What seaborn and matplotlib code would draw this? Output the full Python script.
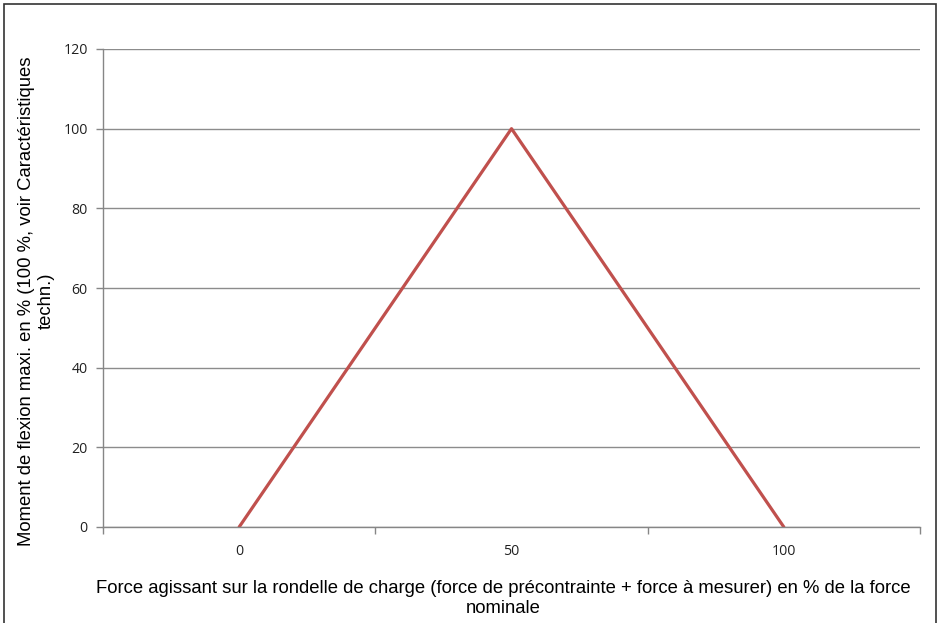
import matplotlib
matplotlib.use("Agg")
import matplotlib.pyplot as plt
import seaborn as sns
import pandas as pd
from matplotlib.patches import Rectangle

# Data
categories = ["0", "50", "100"]
moment = [0, 100, 0]
y_ticks = [0, 20, 40, 60, 80, 100, 120]

x_label = "Force agissant sur la rondelle de charge (force de précontrainte + force à mesurer) en % de la force\nnominale"
y_label = "Moment de flexion maxi. en % (100 %, voir Caractéristiques\ntechn.)"

sns.set_theme(style="white")
plt.rcParams["font.family"] = ["Liberation Sans", "DejaVu Sans"]

df = pd.DataFrame({"pos": range(len(categories)), "moment": moment})

W, H = 941, 623
fig = plt.figure(figsize=(W / 100, H / 100), dpi=100)
ax = fig.add_axes([103 / W, 1 - 527 / H, (920 - 103) / W, (527 - 49) / H])

sns.lineplot(data=df, x="pos", y="moment", ax=ax, color="#C0504D", linewidth=2.3)

tick_font = ["Open Sans", "DejaVu Sans"]
ax.set_xlim(-0.5, len(categories) - 0.5)
ax.set_ylim(0, 120)
ax.set_yticks(y_ticks)
ax.set_yticklabels([str(v) for v in y_ticks], fontsize=10.2, family=tick_font, color="#202020")
ax.set_xticks(range(len(categories)))
ax.set_xticklabels(categories, fontsize=10.2, family=tick_font, color="#202020")
ax.set_xticks([i - 0.5 for i in range(len(categories) + 1)], minor=True)
ax.tick_params(axis="x", which="major", length=0, pad=12)
ax.tick_params(axis="x", which="minor", length=5, width=1, color="#868686", direction="out", bottom=True)
ax.tick_params(axis="y", which="major", length=5, width=1, color="#868686", direction="out", left=True, pad=6)

ax.grid(axis="y", color="#8c8c8c", linewidth=1)
ax.set_axisbelow(True)
for side in ["top", "right"]:
    ax.spines[side].set_visible(False)
for side in ["left", "bottom"]:
    ax.spines[side].set_color("#868686")
    ax.spines[side].set_linewidth(1)

ax.set_xlabel("")
ax.set_ylabel("")

fig.text(503 / W, 1 - 598.5 / H, x_label, ha="center", va="center", fontsize=13.3,
         color="#000000", linespacing=1.2)
fig.text(36.5 / W, 1 - 301 / H, y_label, ha="center", va="center", rotation=90,
         fontsize=13.3, color="#000000", linespacing=1.2)

fig.patches.append(Rectangle((4 / W, -0.01), (936 - 4) / W, 1 - 4 / H + 0.01,
                             transform=fig.transFigure, fill=False,
                             edgecolor="#333333", linewidth=1.2))

fig.savefig("out.png", dpi=100)
